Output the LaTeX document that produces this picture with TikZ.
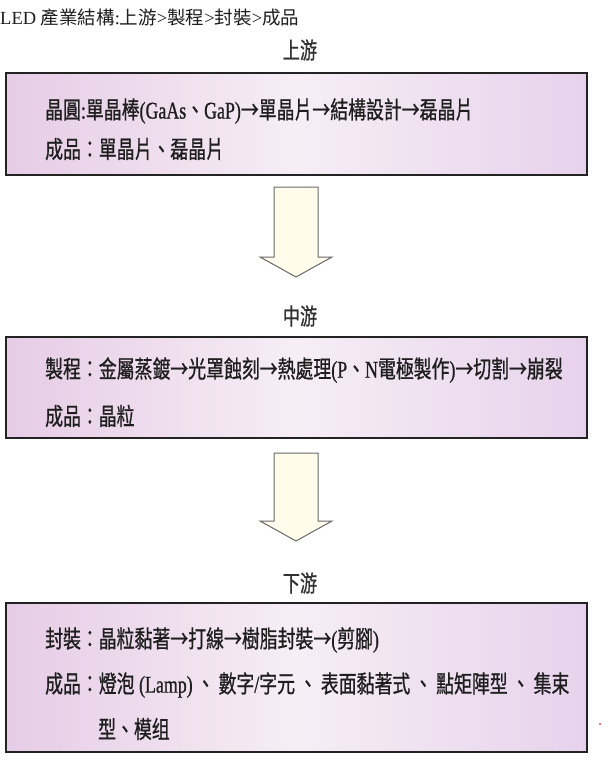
\documentclass[tikz,border=0pt]{standalone}
\usepackage{fontspec}
\setmainfont{Liberation Serif}
\newfontfamily\cjk[FakeStretch=0.745,FakeBold=0.8]{Noto Sans CJK TC}
\newfontfamily\lat[FakeStretch=0.745,FakeBold=0.8]{Liberation Serif}
\newfontfamily\cjkn{Noto Sans CJK TC}
\newcommand\latx[1]{{\lat #1}}
\definecolor{boxL}{RGB}{230,204,230}
\definecolor{boxM}{RGB}{246,238,245}
\definecolor{boxR}{RGB}{231,210,236}
\definecolor{edge}{RGB}{35,35,35}
\definecolor{ink}{RGB}{30,30,30}
\definecolor{cream}{RGB}{255,252,235}
\tikzset{
  stagebox/.style={draw=edge, line width=2.6pt, left color=boxL, right color=boxR, middle color=boxM, shading angle=90, minimum width=581pt, inner sep=0pt},
  boxline/.style={anchor=west, inner sep=0pt, text=ink, font=\cjk\fontsize{24}{28}\selectfont},
  heading/.style={inner sep=0pt, text={rgb,255:red,50;green,50;blue,50}, font=\cjk\fontsize{23}{27}\selectfont},
  blockarrow/.style={fill=cream, draw={rgb,255:red,105;green,105;blue,105}, line width=1pt, line join=miter}
}
\begin{document}
\begin{tikzpicture}[x=1pt,y=-1pt]
\useasboundingbox (0,0) rectangle (609,765);
\fill[white] (0,0) rectangle (609,765);

% title
\node[anchor=west, inner sep=0pt, text=ink, font=\fontsize{18.5}{22}\selectfont] (title) at (0,17)
  {LED {\cjkn 產業結構}:{\cjkn 上游}>{\cjkn 製程}>{\cjkn 封裝}>{\cjkn 成品}};

% upstream
\node[heading] (h1) at (300,50) {上游};
\node[stagebox, minimum height=102pt] (b1) at (296.5,124) {};
\node[boxline] (b1l1) at (45,111) {晶圓\latx{:}單晶棒\latx{(GaAs}、\latx{GaP)}→單晶片→結構設計→磊晶片};
\node[boxline] (b1l2) at (45,149) {成品：單晶片、磊晶片};

% arrow 1
\draw[blockarrow] (274,187) -- (318,187) -- (318,257) -- (332,257) -- (296,277) -- (260,257) -- (274,257) -- cycle;

% midstream
\node[heading] (h2) at (300,316) {中游};
\node[stagebox, minimum height=101pt] (b2) at (296.5,387.5) {};
\node[boxline] (b2l1) at (45,370) {製程：金屬蒸鍍→光罩蝕刻→熱處理\latx{(P}、\latx{N}電極製作\latx{)}→切割→崩裂};
\node[boxline] (b2l2) at (45,416) {成品：晶粒};

% arrow 2
\draw[blockarrow] (274,453) -- (318,453) -- (318,521) -- (332,521) -- (296,541) -- (260,521) -- (274,521) -- cycle;

% downstream
\node[heading] (h3) at (300,583) {下游};
\node[stagebox, minimum height=149pt] (b3) at (296.5,677.5) {};
\node[boxline] (b3l1) at (45,640) {封裝：晶粒黏著→打線→樹脂封裝→\latx{(}剪腳\latx{)}};
\node[boxline] (b3l2) at (45,685) {成品：燈泡\latx{ (Lamp)}\hspace{4pt}、\hspace{4pt}數字\latx{/}字元\hspace{4pt}、\hspace{4pt}表面黏著式\hspace{4pt}、\hspace{4pt}點矩陣型\hspace{4pt}、\hspace{4pt}集束};
\node[boxline] (b3l3) at (98,729) {型、模组};

\fill[red!75] (600,724) circle (1.2);
\end{tikzpicture}
\end{document}
